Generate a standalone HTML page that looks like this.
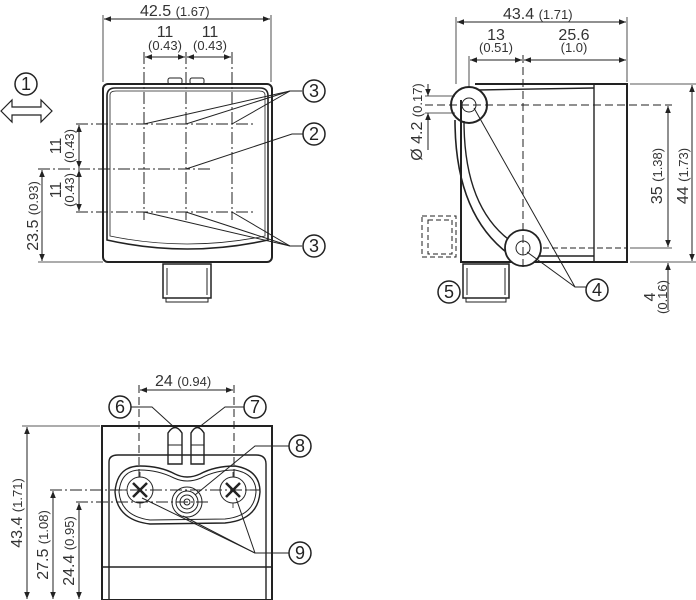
<!DOCTYPE html>
<html><head><meta charset="utf-8"><style>
html,body{margin:0;padding:0;background:#fff;}
svg{display:block;}
text{font-family:"Liberation Sans",sans-serif;fill:#333;}
.b{font-size:16px;}
.s{font-size:13px;}
.n{font-size:18px;text-anchor:middle;fill:#222;}
</style></head><body>
<svg width="696" height="600" viewBox="0 0 696 600" xmlns="http://www.w3.org/2000/svg">
<defs>
<marker id="a" viewBox="0 0 10 10" refX="10" refY="5" markerWidth="9" markerHeight="7" orient="auto-start-reverse" markerUnits="userSpaceOnUse"><path d="M0,1 L10,5 L0,9 Z" fill="#222"/></marker>
</defs>
<g stroke="#222" fill="none" stroke-width="1">
<!-- ========== FRONT VIEW ========== -->
<rect x="103" y="84" width="169" height="178" rx="5" stroke-width="2"/>
<path d="M107,96 Q107,88 115,88 L260,88 Q268,88 268,96 L268,240 Q187,258 107,240 Z" stroke-width="1.6"/>
<path d="M110,95 Q110,91 116,91 L259,91 Q265,91 265,95 L265,236 Q187,252 110,236 Z" stroke-width="0.8"/>
<rect x="168" y="78" width="14" height="6" rx="2"/>
<rect x="190" y="78" width="14" height="6" rx="2"/>
<rect x="163" y="264" width="48" height="34" stroke-width="1.5"/>
<rect x="166" y="298" width="42" height="4"/>
<line x1="167" y1="268" x2="167" y2="295"/><line x1="207" y1="268" x2="207" y2="295"/>
<line x1="103" y1="15" x2="103" y2="82" stroke-width="0.8"/>
<line x1="271" y1="15" x2="271" y2="82" stroke-width="0.8"/>
<line x1="104" y1="19" x2="270" y2="19" marker-start="url(#a)" marker-end="url(#a)"/>
<line x1="144" y1="52" x2="144" y2="220" stroke-dasharray="12,3,2,3"/>
<line x1="186" y1="52" x2="186" y2="220" stroke-dasharray="12,3,2,3"/>
<line x1="232" y1="52" x2="232" y2="220" stroke-dasharray="12,3,2,3"/>
<line x1="145" y1="57" x2="185" y2="57" marker-start="url(#a)" marker-end="url(#a)"/>
<line x1="187" y1="57" x2="231" y2="57" marker-start="url(#a)" marker-end="url(#a)"/>
<line x1="76" y1="124" x2="255" y2="124" stroke-dasharray="12,3,2,3"/>
<line x1="76" y1="212" x2="255" y2="212" stroke-dasharray="12,3,2,3"/>
<line x1="38" y1="169" x2="210" y2="169" stroke-dasharray="12,3,2,3"/>
<line x1="79" y1="125" x2="79" y2="168" marker-start="url(#a)" marker-end="url(#a)"/>
<line x1="79" y1="170" x2="79" y2="211" marker-start="url(#a)" marker-end="url(#a)"/>
<line x1="38" y1="262" x2="103" y2="262" stroke-width="0.8"/>
<line x1="42" y1="170" x2="42" y2="261" marker-start="url(#a)" marker-end="url(#a)"/>
<polyline points="144,124 290,91 302,91"/><polyline points="186,124 290,91"/><polyline points="232,124 290,91"/>
<polyline points="186,169 292,134 303,134"/>
<polyline points="144,212 290,246 302,246"/><polyline points="186,212 290,246"/><polyline points="232,212 290,246"/>
<circle cx="314" cy="91" r="11" stroke-width="1.5"/>
<circle cx="314" cy="134" r="11" stroke-width="1.5"/>
<circle cx="314" cy="246" r="11" stroke-width="1.5"/>
<circle cx="26" cy="84" r="11" stroke-width="1.5"/>
<path d="M1,111 L12,100 L12,107 L41,107 L41,100 L52,111 L41,122 L41,115 L12,115 L12,122 Z" stroke-width="1.2"/>

<!-- ========== SIDE VIEW ========== -->
<path d="M461,100 L461,262 L627,262 L627,84 L475,84" stroke-width="2"/>
<line x1="594" y1="84" x2="594" y2="262" stroke-width="1.4"/>
<line x1="478" y1="90" x2="594" y2="88" stroke-width="1.4"/>
<line x1="534" y1="256" x2="594" y2="256" stroke-width="1.4"/>
<line x1="534" y1="248" x2="627" y2="248" stroke-dasharray="6,3"/>
<path d="M455,120 Q455,215 510,255" stroke-width="1.6"/>
<path d="M464,121 Q464,208 512,242" stroke-width="1.4"/>
<circle cx="469" cy="105" r="18" stroke-width="2"/>
<circle cx="469" cy="105" r="7"/>
<circle cx="523" cy="248" r="18" fill="#fff" stroke-width="1.8"/>
<circle cx="523" cy="248" r="7"/>
<line x1="425" y1="105" x2="672" y2="105" stroke-dasharray="8,4"/>
<line x1="523" y1="55" x2="523" y2="270" stroke-dasharray="8,4"/>
<rect x="422" y="216" width="34" height="41" stroke-dasharray="5,3"/>
<rect x="428" y="220" width="24" height="34" stroke-dasharray="5,3"/>
<rect x="463" y="264" width="46" height="34" stroke-width="1.5"/>
<rect x="466" y="298" width="40" height="4"/>
<line x1="467" y1="268" x2="467" y2="295"/><line x1="505" y1="268" x2="505" y2="295"/>
<line x1="456" y1="17" x2="456" y2="84" stroke-width="0.8"/>
<line x1="627" y1="17" x2="627" y2="82" stroke-width="0.8"/>
<line x1="457" y1="22" x2="626" y2="22" marker-start="url(#a)" marker-end="url(#a)"/>
<line x1="469" y1="56" x2="469" y2="86" stroke-width="0.8"/>
<line x1="470" y1="60" x2="522" y2="60" marker-start="url(#a)" marker-end="url(#a)"/>
<line x1="524" y1="60" x2="626" y2="60" marker-start="url(#a)" marker-end="url(#a)"/>
<line x1="630" y1="84" x2="696" y2="84" stroke-width="0.8"/>
<line x1="630" y1="262" x2="696" y2="262" stroke-width="0.8"/>
<line x1="630" y1="248" x2="672" y2="248" stroke-width="0.8"/>
<line x1="668" y1="106" x2="668" y2="247" marker-start="url(#a)" marker-end="url(#a)"/>
<line x1="692" y1="85" x2="692" y2="261" marker-start="url(#a)" marker-end="url(#a)"/>
<line x1="668" y1="310" x2="668" y2="263" marker-end="url(#a)"/>
<line x1="425" y1="96" x2="455" y2="96" stroke-width="0.8"/>
<line x1="425" y1="113" x2="455" y2="113" stroke-width="0.8"/>
<line x1="428" y1="84" x2="428" y2="96" marker-end="url(#a)"/>
<line x1="428" y1="150" x2="428" y2="113" marker-end="url(#a)"/>
<polyline points="474,108 575,287 586,287"/><polyline points="527,252 575,287"/>
<circle cx="597" cy="290" r="11" stroke-width="1.5"/>
<circle cx="449" cy="292" r="11" stroke-width="1.5"/>

<!-- ========== BOTTOM VIEW ========== -->
<rect x="102" y="426" width="170" height="174" stroke-width="2"/>
<path d="M109,600 L109,462 Q109,455 118,455 L256,455 Q266,455 266,464 L266,600" stroke-width="1.4"/>
<line x1="102" y1="567" x2="272" y2="567" stroke-width="1.4"/>
<path d="M168,464 L168,433 Q175,422 182,433 L182,464 Z" stroke-width="1.4"/>
<path d="M191,464 L191,433 Q197,422 204,433 L204,464 Z" stroke-width="1.4"/>
<line x1="168" y1="445" x2="182" y2="445"/><line x1="191" y1="445" x2="204" y2="445"/>
<path d="M140,466 Q160,466 175,474 Q187,480 200,474 Q215,466 235,466 Q260,470 260,492 Q258,520 225,523 L150,524 Q117,520 115,492 Q117,466 140,466 Z" fill="#fff" stroke-width="1.4"/>
<path d="M140,470 Q158,470 174,478 Q187,484 201,478 Q216,470 235,470 Q256,474 256,492 Q254,516 225,519 L150,520 Q121,516 119,492 Q121,470 140,470 Z" stroke-width="1"/>
<circle cx="140" cy="490" r="13"/>
<circle cx="233" cy="490" r="13"/>
<path d="M133,483 L147,497 M147,483 L133,497" stroke-width="2.5"/>
<path d="M226,483 L240,497 M240,483 L226,497" stroke-width="2.5"/>
<circle cx="187" cy="502" r="15"/><circle cx="187" cy="502" r="11"/><circle cx="187" cy="502" r="7"/><circle cx="187" cy="502" r="3"/>
<g stroke-width="0.8">
<line x1="140" y1="472" x2="140" y2="477"/><line x1="140" y1="503" x2="140" y2="508"/><line x1="122" y1="490" x2="127" y2="490"/><line x1="153" y1="490" x2="158" y2="490"/>
<line x1="233" y1="472" x2="233" y2="477"/><line x1="233" y1="503" x2="233" y2="508"/><line x1="215" y1="490" x2="220" y2="490"/><line x1="246" y1="490" x2="251" y2="490"/>
</g>
<line x1="139" y1="385" x2="139" y2="478" stroke-dasharray="8,4"/>
<line x1="234" y1="385" x2="234" y2="478" stroke-dasharray="8,4"/>
<line x1="140" y1="390" x2="233" y2="390" marker-start="url(#a)" marker-end="url(#a)"/>
<line x1="50" y1="490" x2="260" y2="490" stroke-dasharray="12,3,2,3"/>
<line x1="76" y1="502" x2="210" y2="502" stroke-dasharray="12,3,2,3"/>
<line x1="22" y1="426" x2="100" y2="426" stroke-width="0.8"/>
<line x1="27" y1="427" x2="27" y2="599" marker-start="url(#a)" marker-end="url(#a)"/>
<line x1="53" y1="491" x2="53" y2="599" marker-start="url(#a)" marker-end="url(#a)"/>
<line x1="79" y1="503" x2="79" y2="599" marker-start="url(#a)" marker-end="url(#a)"/>
<polyline points="131,407 152,407 175,428"/>
<polyline points="244,407 225,407 198,428"/>
<polyline points="289,446 255,446 195,495"/>
<polyline points="289,553 255,553 142,498"/><polyline points="255,553 183,516"/><polyline points="255,553 236,498"/>
<circle cx="120" cy="407" r="11" stroke-width="1.5"/>
<circle cx="255" cy="407" r="11" stroke-width="1.5"/>
<circle cx="300" cy="446" r="11" stroke-width="1.5"/>
<circle cx="300" cy="553" r="11" stroke-width="1.5"/>
</g>

<text x="140" y="16" class="b">42.5 <tspan class="s">(1.67)</tspan></text>
<text x="165" y="37" class="b" text-anchor="middle">11</text>
<text x="165" y="50" class="s" text-anchor="middle">(0.43)</text>
<text x="210" y="37" class="b" text-anchor="middle">11</text>
<text x="210" y="50" class="s" text-anchor="middle">(0.43)</text>
<text transform="translate(61,146) rotate(-90)" class="b" text-anchor="middle">11</text>
<text transform="translate(74,146) rotate(-90)" class="s" text-anchor="middle">(0.43)</text>
<text transform="translate(61,190) rotate(-90)" class="b" text-anchor="middle">11</text>
<text transform="translate(74,190) rotate(-90)" class="s" text-anchor="middle">(0.43)</text>
<text transform="translate(38,216) rotate(-90)" class="b" text-anchor="middle">23.5 <tspan class="s">(0.93)</tspan></text>
<text x="26" y="90" class="n">1</text>
<text x="314" y="97" class="n">3</text>
<text x="314" y="140" class="n">2</text>
<text x="314" y="252" class="n">3</text>

<text x="503" y="19" class="b">43.4 <tspan class="s">(1.71)</tspan></text>
<text x="496" y="40" class="b" text-anchor="middle">13</text>
<text x="496" y="52" class="s" text-anchor="middle">(0.51)</text>
<text x="574" y="40" class="b" text-anchor="middle">25.6</text>
<text x="574" y="52" class="s" text-anchor="middle">(1.0)</text>
<text transform="translate(662,176) rotate(-90)" class="b" text-anchor="middle">35 <tspan class="s">(1.38)</tspan></text>
<text transform="translate(688,176) rotate(-90)" class="b" text-anchor="middle">44 <tspan class="s">(1.73)</tspan></text>
<text transform="translate(422,122) rotate(-90)" class="b" text-anchor="middle">Ø 4.2 <tspan class="s">(0.17)</tspan></text>
<text transform="translate(655,297) rotate(-90)" class="b" text-anchor="middle">4</text>
<text transform="translate(667,297) rotate(-90)" class="s" text-anchor="middle">(0.16)</text>
<text x="597" y="296" class="n">4</text>
<text x="449" y="298" class="n">5</text>

<text x="155" y="386" class="b">24 <tspan class="s">(0.94)</tspan></text>
<text transform="translate(22,513) rotate(-90)" class="b" text-anchor="middle">43.4 <tspan class="s">(1.71)</tspan></text>
<text transform="translate(48,545) rotate(-90)" class="b" text-anchor="middle">27.5 <tspan class="s">(1.08)</tspan></text>
<text transform="translate(74,551) rotate(-90)" class="b" text-anchor="middle">24.4 <tspan class="s">(0.95)</tspan></text>
<text x="120" y="413" class="n">6</text>
<text x="255" y="413" class="n">7</text>
<text x="300" y="452" class="n">8</text>
<text x="300" y="559" class="n">9</text>
</svg>
</body></html>
